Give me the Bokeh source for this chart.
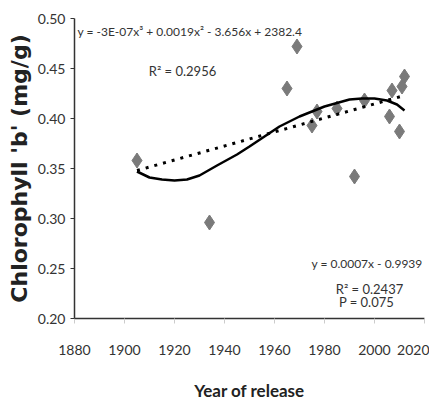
from bokeh.plotting import figure
from bokeh.models import Range1d, FixedTicker, Label, NumeralTickFormatter
from bokeh.embed import file_html
from bokeh.resources import INLINE

# observed data
years = [1905, 1934, 1965, 1969, 1975, 1977, 1985, 1992, 1996, 2006, 2007, 2010, 2011, 2012]
chl_b = [0.358, 0.296, 0.430, 0.472, 0.393, 0.407, 0.410, 0.342, 0.418, 0.402, 0.428, 0.387, 0.432, 0.442]

# polynomial trendline
poly_years = [1905, 1910, 1915, 1920, 1925, 1930, 1937, 1945, 1950, 1956, 1962, 1970, 1980, 1990, 1995, 2000, 2005, 2009, 2012]
poly_vals = [0.347, 0.341, 0.339, 0.338, 0.339, 0.343, 0.353, 0.364, 0.372, 0.382, 0.392, 0.402, 0.412, 0.419, 0.420, 0.420, 0.418, 0.414, 0.408]

# linear trendline
lin_years = [1905, 2012]
lin_vals = [0.348, 0.423]

x_ticks = [1880, 1900, 1920, 1940, 1960, 1980, 2000, 2020]
y_ticks = [0.20, 0.25, 0.30, 0.35, 0.40, 0.45, 0.50]

NARROW = "Lato"
TXT = "#333333"

p = figure(frame_width=350, frame_height=300, output_backend="svg", toolbar_location=None,
           x_range=Range1d(1880, 2020), y_range=Range1d(0.20, 0.50),
           min_border_left=74, min_border_right=5, min_border_top=18, min_border_bottom=0)
p.outline_line_color = None
p.xgrid.visible = False
p.ygrid.visible = False
p.background_fill_color = "white"

p.scatter(years, chl_b, marker="diamond", size=15, fill_color="#7a7a7a", line_color="#7a7a7a")
p.line(poly_years, poly_vals, line_color="black", line_width=2.5)
p.line(lin_years, lin_vals, line_color="black", line_width=3, line_dash="3 6")

# axes
p.xaxis.ticker = FixedTicker(ticks=x_ticks)
p.yaxis.ticker = FixedTicker(ticks=y_ticks)
p.yaxis.formatter = NumeralTickFormatter(format="0.00")
for ax in (p.xaxis, p.yaxis):
    ax.axis_line_color = "#333333"
    ax.axis_line_width = 1.5
    ax.minor_tick_line_color = None
    ax.major_label_text_font = NARROW
    ax.major_label_text_font_size = "14px"
    ax.major_label_text_color = TXT
    ax.axis_label_text_font_style = "bold"
    ax.axis_label_text_color = "#222222"

p.xaxis.major_tick_line_color = "#cccccc"
p.xaxis.major_tick_out = 5
p.xaxis.major_tick_in = 0
p.xaxis.major_label_standoff = 21
p.xaxis.axis_label = "Year of release"
p.xaxis.axis_label_text_font = NARROW
p.xaxis.axis_label_text_font_size = "17px"
p.xaxis.axis_label_standoff = 22

p.yaxis.major_tick_line_color = "#333333"
p.yaxis.major_tick_out = 4
p.yaxis.major_tick_in = 0
p.yaxis.major_label_standoff = 5
p.yaxis.axis_label = "Chlorophyll 'b' (mg/g)"
p.yaxis.axis_label_text_font = "DejaVu Sans"
p.yaxis.axis_label_text_font_size = "22px"
p.yaxis.axis_label_standoff = 3

def add_label(x, y, text, align="left", size="12px"):
    p.add_layout(Label(x=x, y=y, text=text, text_font=NARROW, text_font_size=size,
                       text_color=TXT, text_align=align, text_baseline="middle"))

add_label(1881.2, 0.487, "y = -3E-07x³ + 0.0019x² - 3.656x + 2382.4")
add_label(1923.2, 0.448, "R² = 0.2956", align="center", size="13px")
add_label(1997.0, 0.255, "y = 0.0007x - 0.9939", align="center")
add_label(1998.0, 0.230, "R² = 0.2437", align="center", size="13px")
add_label(1996.8, 0.217, "P = 0.075", align="center", size="13px")

open("out.html", "w").write(file_html(p, INLINE))
